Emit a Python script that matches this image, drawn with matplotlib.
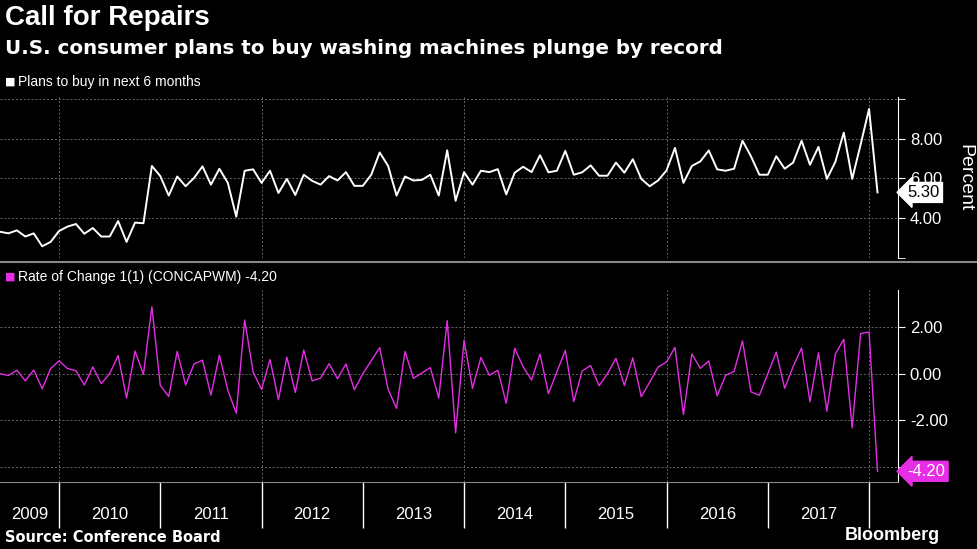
import numpy as np
import matplotlib
matplotlib.use("Agg")
import matplotlib.pyplot as plt

plans = [3.32,3.24,3.39,3.08,3.24,2.59,2.81,3.36,3.58,3.71,3.22,3.51,3.08,3.08,3.86,2.81,3.78,3.75,
         6.63,6.12,5.14,6.10,5.61,6.03,6.61,5.69,6.49,5.78,4.08,6.39,6.46,5.78,6.39,5.27,5.98,5.17,
         6.19,5.88,5.69,6.12,5.90,6.32,5.63,5.63,6.19,7.31,6.63,5.14,6.10,5.90,5.93,6.19,5.14,7.42,
         4.88,6.32,5.69,6.39,6.32,6.47,5.20,6.29,6.59,6.32,7.17,6.31,6.39,7.39,6.19,6.31,6.66,6.14,
         6.14,6.80,6.29,6.97,5.98,5.61,5.90,6.41,7.54,5.78,6.63,6.86,7.41,6.46,6.39,6.49,7.90,7.12,
         6.19,6.19,7.12,6.49,6.80,7.90,6.69,7.59,5.98,6.83,8.31,5.98,7.71,9.50,5.30]
start_year, start_month = 2009, 6
years = list(range(2009, 2018))
top_ticks = [4, 6, 8]
bot_ticks = [-4, -2, 0, 2]

plans = np.array(plans)
change = np.concatenate([[0.0], np.diff(plans)])
x = start_year + (start_month - 1 + np.arange(len(plans))) / 12.0
xlim = (x[0], x[0] + 898 / 101.25)
grid_x = [2010, 2012, 2014, 2016, 2018]
MAG = "#e62ee6"

fig = plt.figure(figsize=(9.77, 5.49), dpi=100, facecolor="black")
FONT = "Liberation Sans"

fig.text(0.005, 1 - 18/549, "Call for Repairs", color="white", fontsize=20, fontweight="bold",
         family=FONT, va="center")
fig.text(0.005, 1 - 48/549, "U.S. consumer plans to buy washing machines plunge by record",
         color="white", fontsize=14.3, fontweight="bold", family="DejaVu Sans", va="center")
fig.text(0.005, 1 - 82/549, "\u25a0", color="white", fontsize=8, va="center")
fig.text(0.018, 1 - 82/549, "Plans to buy in next 6 months", color="white", fontsize=10,
         family=FONT, va="center")
fig.text(0.005, 1 - 277/549, "\u25a0", color=MAG, fontsize=8, va="center")
fig.text(0.018, 1 - 277/549, "Rate of Change 1(1) (CONCAPWM) -4.20", color="white", fontsize=10,
         family=FONT, va="center")
fig.text(0.005, 1 - 538/549, "Source: Conference Board", color="white", fontsize=10.5,
         fontweight="bold", family="DejaVu Sans", va="center")
fig.text(0.962, 1 - 536/549, "Bloomberg", color="white", fontsize=13, fontweight="bold",
         family=FONT, va="center", ha="right")
fig.add_artist(plt.Line2D([0, 1], [1 - 262/549]*2, color="#888888", lw=1.5))

def style(ax, ticks, ylim):
    ax.set_facecolor("black")
    ax.set_xlim(*xlim)
    ax.set_ylim(*ylim)
    for s in ["top", "left", "bottom"]:
        ax.spines[s].set_visible(False)
    ax.spines["right"].set_color("white")
    ax.yaxis.tick_right()
    ax.set_yticks(ticks)
    ax.set_yticklabels([f"{t:.2f}" for t in ticks], color="white", fontsize=12, family=FONT)
    ax.tick_params(axis="y", colors="white", length=5, direction="out")
    for t in ticks:
        ax.axhline(t, color="#666666", lw=0.7, ls=(0, (2, 2)))
    for g in grid_x:
        ax.axvline(g, color="#666666", lw=0.7, ls=(0, (2, 2)))

ax1 = fig.add_axes([0, (549-258)/549, 898/977, 161/549])
style(ax1, top_ticks, (2.0, 10.1))
ax1.set_yticks([2, 10], minor=True)
ax1.tick_params(axis="y", which="minor", colors="white", length=5)
ax1.axhline(10, color="#666666", lw=0.7, ls=(0, (2, 2)))
ax1.plot(x, plans, color="white", lw=1.4)
ax1.set_xticks([])
ax1.text(1.075, 0.5, "Percent", transform=ax1.transAxes, rotation=270, color="white",
         fontsize=14, family=FONT, va="center", ha="center")
ax1.annotate(f"{plans[-1]:.2f}", xy=(1.0, plans[-1]), xycoords=("axes fraction", "data"),
             xytext=(7, 0), textcoords="offset points", color="black", fontsize=12, family=FONT,
             va="center", ha="left",
             bbox=dict(boxstyle="larrow,pad=0.15", fc="white", ec="white"))

ax2 = fig.add_axes([0, (549-482)/549, 898/977, 192/549])
style(ax2, bot_ticks, (-4.66, 3.6))
ax2.plot(x, change, color=MAG, lw=1.0)
ax2.annotate(f"{change[-1]:.2f}", xy=(1.0, change[-1]), xycoords=("axes fraction", "data"),
             xytext=(7, 0), textcoords="offset points", color="white", fontsize=12, family=FONT,
             va="center", ha="left",
             bbox=dict(boxstyle="larrow,pad=0.15", fc=MAG, ec=MAG))
ax2.spines["bottom"].set_visible(True)
ax2.spines["bottom"].set_color("#888888")
ax2.set_xticks(list(range(2010, 2019)))
ax2.set_xticklabels([])
ax2.tick_params(axis="x", which="major", length=33, color="white", width=1, direction="out")
ax2.set_xticks([max(y + 0.5, xlim[0] + 0.29) for y in years], minor=True)
ax2.set_xticklabels([str(y) for y in years], minor=True, color="white", fontsize=12, family=FONT)
ax2.tick_params(axis="x", which="minor", length=0, pad=18)

fig.savefig("out.png", dpi=100, facecolor="black")
